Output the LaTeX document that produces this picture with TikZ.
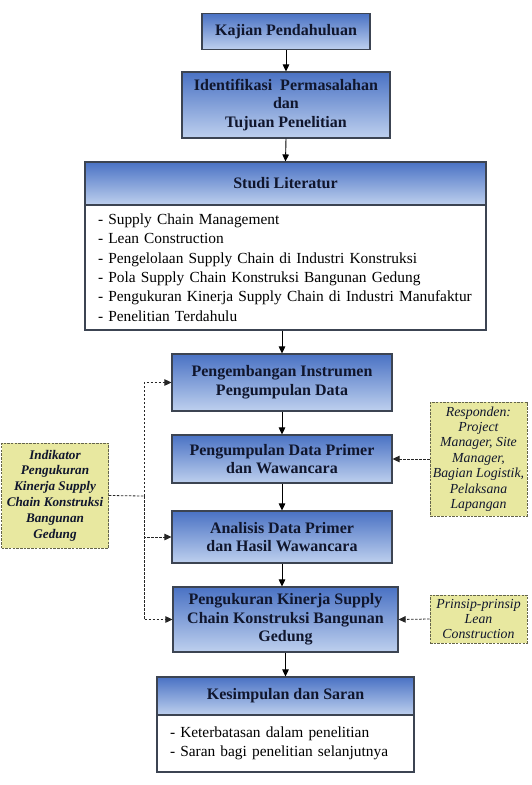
\documentclass[tikz,border=0pt]{standalone}
\usepackage{fontspec}
\setmainfont{Liberation Serif}
\usetikzlibrary{arrows.meta}
\definecolor{hdtop}{RGB}{74,114,196}
\definecolor{hdbot}{RGB}{190,208,238}
\definecolor{bordc}{RGB}{60,68,82}
\definecolor{txtc}{RGB}{16,22,45}
\definecolor{yelf}{RGB}{232,232,160}
\definecolor{yeld}{RGB}{100,100,75}
\tikzset{
  hdbox/.style={draw=bordc, line width=1.1pt, top color=hdtop, bottom color=hdbot,
    align=center, text=txtc, inner sep=2pt,
    font=\bfseries\fontsize{16}{18.7}\selectfont},
  bodybox/.style={draw=bordc, line width=1.1pt, fill=white, align=left,
    inner xsep=13pt, inner ysep=2pt, font=\fontsize{15.4}{19.3}\selectfont},
  notebox/.style={draw=yeld, line width=0.8pt, dash pattern=on 2.5pt off 1.2pt,
    fill=yelf, align=center, inner sep=1pt, text=txtc},
  arr/.style={line width=0.9pt, -{Triangle[length=7pt,width=6.5pt]}},
  dline/.style={line width=0.8pt, draw=black!85, dash pattern=on 2.5pt off 1.5pt},
  darr/.style={dline, -{Triangle[length=7pt,width=6.5pt]}}
}
\begin{document}
\begin{tikzpicture}[x=1pt,y=-1pt]
\useasboundingbox (0,0) rectangle (531,785);
\node[hdbox, minimum width=168pt, minimum height=36pt] (kaj) at (286,31.5) {Kajian Pendahuluan};
\node[hdbox, minimum width=208pt, minimum height=66pt] (ide) at (286,105) {Identifikasi\ \ Permasalahan\\dan\\Tujuan Penelitian};
\node[hdbox, minimum width=401pt, minimum height=43pt] (stu) at (285.5,183.5) {Studi Literatur};
\node[bodybox, minimum width=401pt, text width=375pt, minimum height=125pt] (stub) at (285.5,267.5) {- Supply Chain Management\\- Lean Construction\\- Pengelolaan Supply Chain di Industri Konstruksi\\- Pola Supply Chain Konstruksi Bangunan Gedung\\- Pengukuran Kinerja Supply Chain di Industri Manufaktur\\- Penelitian Terdahulu};
\node[hdbox, minimum width=220pt, minimum height=57pt] (peng) at (282,382.5) {Pengembangan Instrumen\\Pengumpulan Data};
\node[hdbox, minimum width=220pt, minimum height=48pt] (pdp) at (282,459) {Pengumpulan Data Primer\\dan Wawancara};
\node[hdbox, minimum width=220pt, minimum height=52pt] (ana) at (282,537) {Analisis Data Primer\\dan Hasil Wawancara};
\node[hdbox, minimum width=225pt, minimum height=65pt] (ukur) at (285.5,619.5) {Pengukuran Kinerja Supply\\Chain Konstruksi Bangunan\\Gedung};
\node[hdbox, minimum width=257pt, minimum height=38pt] (kes) at (285.5,696) {Kesimpulan dan Saran};
\node[bodybox, minimum width=257pt, text width=231pt, minimum height=57pt] (kesb) at (285.5,743.5) {- Keterbatasan dalam penelitian\\- Saran bagi penelitian selanjutnya};
\node[notebox, minimum width=107pt, minimum height=105pt, font=\bfseries\itshape\fontsize{13.2}{15.8}\selectfont] (ind) at (55,495.5) {Indikator\\Pengukuran\\Kinerja Supply\\Chain Konstruksi\\Bangunan\\Gedung};
\node[notebox, minimum width=97pt, minimum height=114pt, font=\itshape\fontsize{13.8}{15.4}\selectfont] (resp) at (478.5,459) {Responden:\\Project\\Manager, Site\\Manager,\\Bagian Logistik,\\Pelaksana\\Lapangan};
\node[notebox, minimum width=97pt, minimum height=48pt, font=\itshape\fontsize{13.8}{15.2}\selectfont] (prin) at (478.5,619) {Prinsip-prinsip\\Lean\\Construction};
\draw[arr] (kaj.south) -- (ide.north);
\draw[arr] (ide.south) -- (stu.north);
\draw[arr] (stub.south -| peng.north) -- (peng.north);
\draw[arr] (peng.south) -- (pdp.north);
\draw[arr] (pdp.south) -- (ana.north);
\draw[arr] (ana.south) -- (ana.south |- ukur.north);
\draw[arr] (ukur.south) -- (ukur.south |- kes.north);
\coordinate (j) at (144,496);
\draw[dline] (ind.east) -- (j);
\draw[darr] (j) |- (peng.west);
\draw[darr] (j) |- (ana.west);
\draw[darr] (j) |- (ukur.west);
\draw[darr] (resp.west) -- (pdp.east);
\draw[darr] (prin.west) -- (ukur.east);
\end{tikzpicture}
\end{document}
